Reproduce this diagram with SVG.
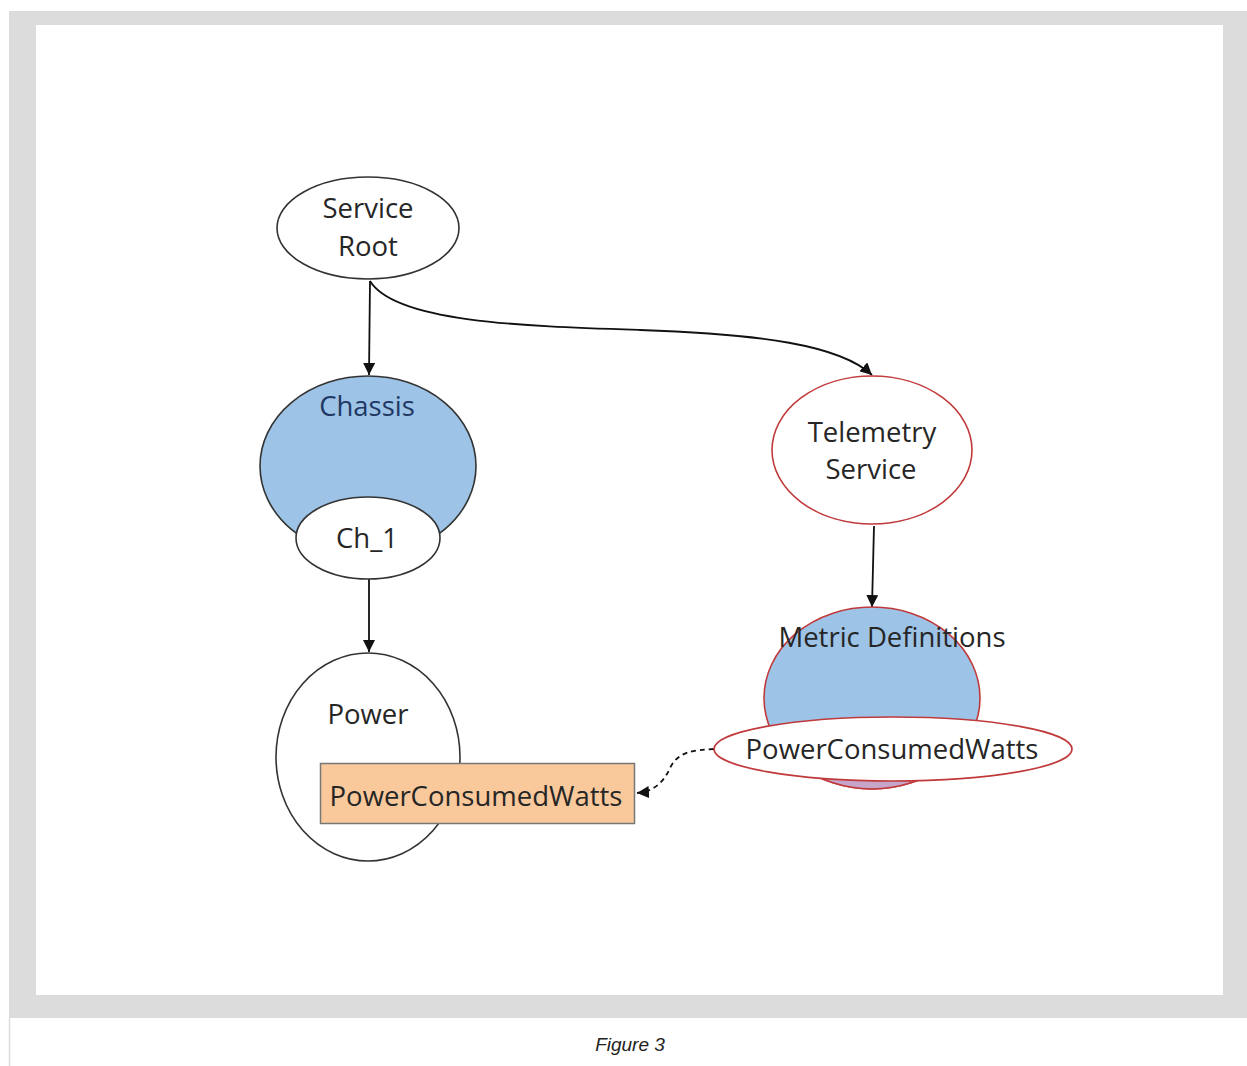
<svg xmlns="http://www.w3.org/2000/svg" width="1247" height="1066" viewBox="0 0 1247 1066">
<defs>
<style>
.lbl{font-family:"Open Sans","Noto Sans",sans-serif;font-size:27.5px;fill:#262626;text-anchor:middle;dominant-baseline:central}
.blk{stroke:#333;stroke-width:1.6}
.red{stroke:#c0393b;stroke-width:1.6}
.edge{fill:none;stroke:#111;stroke-width:1.8}
</style>
<marker id="ah" viewBox="0 0 10 10" refX="10" refY="5" markerWidth="12" markerHeight="12" markerUnits="userSpaceOnUse" orient="auto"><path d="M0,0 L10,5 L0,10 z" fill="#111"/></marker>
<marker id="ah2" viewBox="0 0 10 10" refX="10" refY="5" markerWidth="12" markerHeight="12" markerUnits="userSpaceOnUse" orient="auto"><path d="M0,0 L10,5 L0,10 z" fill="#111"/></marker>
<clipPath id="mdclip"><rect x="700" y="765" width="400" height="40"/></clipPath>
</defs>
<rect x="0" y="0" width="1247" height="1066" fill="#fff"/>
<rect x="9" y="11" width="1238" height="1007" fill="#dcdcdc"/>
<rect x="36" y="25" width="1187" height="970" fill="#fff"/>
<line x1="9.5" y1="1018" x2="9.5" y2="1066" stroke="#dcdcdc" stroke-width="1.5"/>
<text x="630" y="1044" style="font-family:'Liberation Sans',Arial,sans-serif;font-size:19px;font-style:italic;fill:#222;text-anchor:middle;dominant-baseline:central">Figure 3</text>

<g id="connectors">
<path class="edge" d="M370,281 L369,375" marker-end="url(#ah)"/>
<path class="edge" d="M370,281 C395,322 520,326 640,330 C760,334 840,345 872,375" marker-end="url(#ah)"/>
<path class="edge" d="M369,579 L369,652" marker-end="url(#ah)"/>
<path class="edge" d="M874,526 L872,607" marker-end="url(#ah)"/>
<path class="edge" d="M714,749 C692,750 678,752 670,768 C662,786 650,792 637,793" stroke-dasharray="5,4" marker-end="url(#ah2)"/>
</g>

<g id="service-root">
<ellipse cx="368" cy="228" rx="91" ry="51" fill="#fff" class="blk"/>
<text class="lbl" x="368" y="207">Service</text>
<text class="lbl" x="368" y="245">Root</text>
</g>

<g id="chassis">
<ellipse cx="368" cy="466" rx="108" ry="90" fill="#9dc3e6" class="blk"/>
<text class="lbl" x="367" y="405" style="fill:#1f3864">Chassis</text>
</g>

<g id="ch1">
<ellipse cx="368" cy="538" rx="72" ry="41" fill="#fff" class="blk"/>
<text class="lbl" x="367" y="537">Ch_1</text>
</g>

<g id="power">
<ellipse cx="368" cy="757" rx="92" ry="104" fill="#fff" class="blk"/>
<text class="lbl" x="368" y="713">Power</text>
</g>

<g id="power-consumed-watts-prop">
<rect x="320.5" y="763.5" width="314" height="60" fill="#f9c99c" stroke="#777" stroke-width="1.5"/>
<text class="lbl" x="476" y="795">PowerConsumedWatts</text>
</g>

<g id="telemetry-service">
<ellipse cx="872" cy="450" rx="100" ry="74" fill="#fff" class="red"/>
<text class="lbl" x="872" y="431">Telemetry</text>
<text class="lbl" x="871" y="468">Service</text>
</g>

<g id="metric-definitions">
<ellipse cx="872" cy="698" rx="108" ry="91" fill="#9dc3e6" class="red"/>
<ellipse cx="872" cy="698" rx="108" ry="91" fill="#c7a5c9" class="red" clip-path="url(#mdclip)"/>
<text class="lbl" x="892" y="636">Metric Definitions</text>
</g>

<g id="power-consumed-watts-def">
<ellipse cx="893" cy="749" rx="179" ry="32" fill="#fff" class="red"/>
<text class="lbl" x="892" y="748">PowerConsumedWatts</text>
</g>
</svg>
